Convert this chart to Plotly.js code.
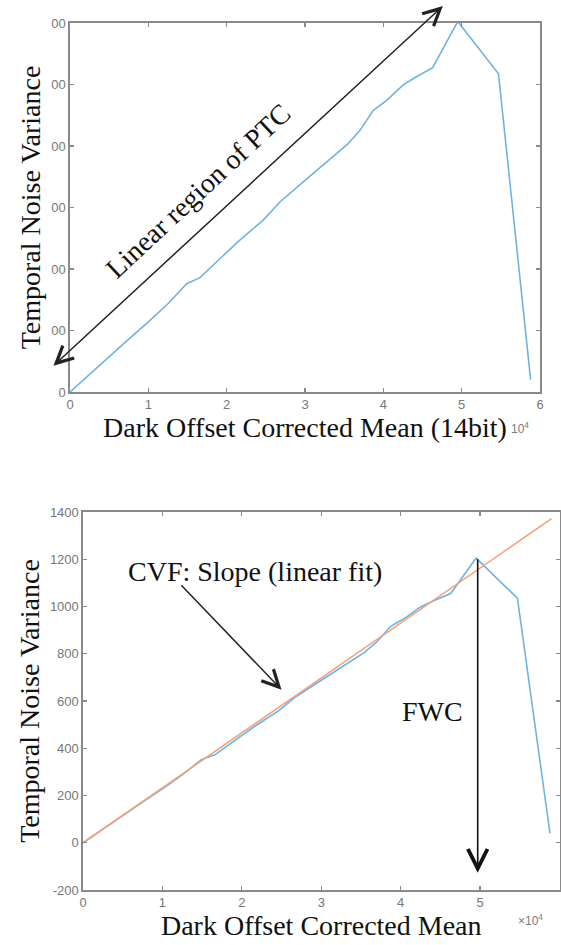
<!DOCTYPE html>
<html>
<head>
<meta charset="utf-8">
<script src="https://cdn.plot.ly/plotly-3.0.1.min.js"></script>
<style>html,body{margin:0;padding:0;background:#fff;}#chart{width:561px;height:945px;}</style>
</head>
<body>
<div id="chart"></div>
<script>
// PTC measurement (dark offset corrected mean vs temporal noise variance)
var meanValues = [0, 2500, 5000, 7500, 10000, 12500, 14900, 16600, 19000, 21500, 24700, 26800, 30000, 33000, 35400, 37000, 38700, 40500, 42500, 44000, 46300, 49500, 54700, 58800];
var varianceValues = [0, 58, 116, 172, 228, 287, 352, 372, 430, 490, 560, 618, 688, 752, 805, 850, 915, 950, 998, 1022, 1055, 1205, 1035, 40];
// linear fit line endpoints
var fitMean = [0, 59000];
var fitVariance = [0, 1372];

var xTickVals = [0, 10000, 20000, 30000, 40000, 50000, 60000];
var xTickText = ['0', '1', '2', '3', '4', '5', '6'];
var topYTickVals = [0, 200, 400, 600, 800, 1000, 1200];
var topYTickText = ['0', '00', '00', '00', '00', '00', '00'];
var botYTickVals = [-200, 0, 200, 400, 600, 800, 1000, 1200, 1400];
var botYTickText = ['-200', '0', '200', '400', '600', '800', '1000', '1200', '1400'];

var blue = '#6fb3e0';
var orange = '#f4a27c';
var axisGrey = '#8a8a8a';
var serif = 'Liberation Serif, Times New Roman, serif';
var sans = 'Liberation Sans, Arial, sans-serif';

var traces = [
  {x: meanValues, y: varianceValues, xaxis: 'x', yaxis: 'y', mode: 'lines', line: {color: blue, width: 1.6}, hoverinfo: 'skip'},
  {x: meanValues, y: varianceValues, xaxis: 'x2', yaxis: 'y2', mode: 'lines', line: {color: blue, width: 1.6}, hoverinfo: 'skip'},
  {x: fitMean, y: fitVariance, xaxis: 'x2', yaxis: 'y2', mode: 'lines', line: {color: orange, width: 1.6}, hoverinfo: 'skip'}
];

function axisBase() {
  return {
    showline: true, linecolor: axisGrey, linewidth: 1.6, mirror: 'ticks',
    ticks: 'inside', ticklen: 4, tickwidth: 1.2, tickcolor: axisGrey,
    showgrid: false, zeroline: false, fixedrange: true,
    tickfont: {family: sans, size: 13, color: '#777777'}
  };
}

var titleFont = {family: serif, size: 28, color: '#111'};

var xa = Object.assign(axisBase(), {
  domain: [70/561, 540/561], anchor: 'y', range: [0, 60000],
  tickmode: 'array', tickvals: xTickVals, ticktext: xTickText,
  title: {text: 'Dark Offset Corrected Mean (14bit)', font: titleFont, standoff: 0}
});
var ya = Object.assign(axisBase(), {
  domain: [1 - 392/945, 1 - 23/945], anchor: 'x', range: [0, 1200],
  tickmode: 'array', tickvals: topYTickVals, ticktext: topYTickText,
  title: {text: 'Temporal Noise Variance', font: titleFont, standoff: 2}
});
var xa2 = Object.assign(axisBase(), {
  domain: [83/561, 559.5/561], anchor: 'y2', range: [0, 60000],
  tickmode: 'array', tickvals: xTickVals, ticktext: xTickText,
  title: {text: 'Dark Offset Corrected Mean', font: titleFont, standoff: 4}
});
var ya2 = Object.assign(axisBase(), {
  domain: [1 - 890/945, 1 - 512/945], anchor: 'x2', range: [-200, 1400],
  tickmode: 'array', tickvals: botYTickVals, ticktext: botYTickText,
  title: {text: 'Temporal Noise Variance', font: titleFont, standoff: 2}
});

var annFont = {family: serif, size: 28, color: '#111'};
var annotations = [
  {xref: 'x', yref: 'y', axref: 'x', ayref: 'y', x: 47600, y: 1255, ax: -2300, ay: 81, text: '',
   showarrow: true, arrowside: 'end+start', arrowhead: 5, startarrowhead: 5, arrowsize: 2.2, startarrowsize: 2.2,
   arrowwidth: 1.5, arrowcolor: '#222', standoff: 0, startstandoff: 0},
  {xref: 'x', yref: 'y', x: 16400, y: 655, text: 'Linear region of PTC', textangle: -43, showarrow: false, font: annFont},
  {xref: 'x2', yref: 'y2', axref: 'x2', ayref: 'y2', x: 25000, y: 648, ax: 12200, ay: 1096, text: '',
   showarrow: true, arrowhead: 5, arrowsize: 2.2, arrowwidth: 1.5, arrowcolor: '#222', standoff: 0},
  {xref: 'x2', yref: 'y2', x: 21600, y: 1147, text: 'CVF: Slope (linear fit)', showarrow: false, font: annFont},
  {xref: 'x2', yref: 'y2', axref: 'x2', ayref: 'y2', x: 49700, y: -127, ax: 49700, ay: 1206, text: '',
   showarrow: true, arrowhead: 5, arrowsize: 2.4, arrowwidth: 1.6, arrowcolor: '#111', standoff: 0},
  {xref: 'x2', yref: 'y2', x: 44000, y: 554, text: 'FWC', showarrow: false, font: annFont},
  {xref: 'paper', yref: 'paper', x: 531/561, y: 1 - 428/945, text: '10<sup>4</sup>', showarrow: false,
   font: {family: sans, size: 12, color: '#7a7a7a'}},
  {xref: 'paper', yref: 'paper', x: 545/561, y: 1 - 930/945, text: '\u00d710<sup>4</sup>', showarrow: false,
   font: {family: sans, size: 12, color: '#7a7a7a'}}
];

var layout = {
  width: 561, height: 945,
  margin: {l: 0, r: 0, t: 0, b: 0},
  paper_bgcolor: '#ffffff', plot_bgcolor: '#ffffff',
  showlegend: false,
  xaxis: xa, yaxis: ya, xaxis2: xa2, yaxis2: ya2,
  annotations: annotations
};

Plotly.newPlot('chart', traces, layout, {displayModeBar: false, staticPlot: true});
</script>
</body>
</html>
